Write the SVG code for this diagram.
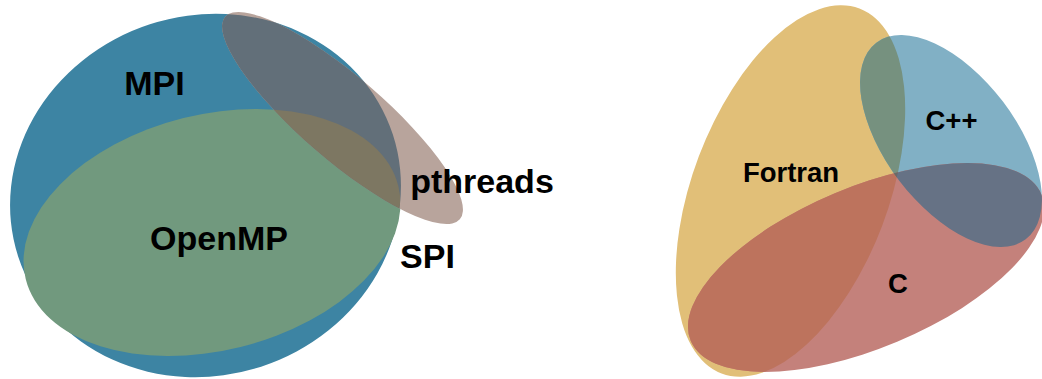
<svg xmlns="http://www.w3.org/2000/svg" width="1042" height="379" viewBox="0 0 1042 379">
<style>
.lbl{font-family:"Liberation Sans",Arial,sans-serif;font-weight:bold;fill:#000;text-anchor:middle}
.big{font-size:34px}
.small{font-size:27.5px}
</style>
<defs>
<clipPath id="clipMPI"><ellipse cx="205.5" cy="195.5" rx="197" ry="180" transform="rotate(-18 205.5 195.5)"/></clipPath>
<clipPath id="clipOMP"><ellipse cx="212" cy="232.5" rx="192" ry="118" transform="rotate(-14 212 232.5)"/></clipPath>
<clipPath id="clipF"><ellipse cx="790.5" cy="191" rx="98" ry="195" transform="rotate(20.7 790.5 191)"/></clipPath>
<clipPath id="clipCPP"><ellipse cx="951" cy="141" rx="123.5" ry="65.2" transform="rotate(52.8 951 141)"/></clipPath>
</defs>
<rect width="1042" height="379" fill="#fff"/>
<g id="mpi">
<ellipse cx="205.5" cy="195.5" rx="197" ry="180" transform="rotate(-18 205.5 195.5)" fill="#3d84a3"/>
<text class="lbl big" x="154.5" y="95">MPI</text>
</g>
<g id="openmp">
<ellipse cx="212" cy="232.5" rx="192" ry="118" transform="rotate(-14 212 232.5)" fill="#71997e"/>
<text class="lbl big" x="219" y="250">OpenMP</text>
</g>
<g id="pthreads">
<ellipse cx="342.5" cy="118" rx="155" ry="41.6" transform="rotate(40.8 342.5 118)" fill="#b8a49c"/>
<g clip-path="url(#clipMPI)">
<ellipse cx="342.5" cy="118" rx="155" ry="41.6" transform="rotate(40.8 342.5 118)" fill="#626f79"/>
<g clip-path="url(#clipOMP)">
<ellipse cx="342.5" cy="118" rx="155" ry="41.6" transform="rotate(40.8 342.5 118)" fill="#7d7762"/>
</g>
</g>
<text class="lbl big" x="482" y="193">pthreads</text>
</g>
<g id="spi">
<text class="lbl big" x="427.5" y="268">SPI</text>
</g>
<g id="fortran">
<ellipse cx="790.5" cy="191" rx="98" ry="195" transform="rotate(20.7 790.5 191)" fill="#e1bf78"/>
<text class="lbl small" x="791" y="182">Fortran</text>
</g>
<g id="cpp">
<ellipse cx="951" cy="141" rx="123.5" ry="65.2" transform="rotate(52.8 951 141)" fill="#81b0c5"/>
<g clip-path="url(#clipF)">
<ellipse cx="951" cy="141" rx="123.5" ry="65.2" transform="rotate(52.8 951 141)" fill="#76917f"/>
</g>
<text class="lbl small" x="951.5" y="130">C++</text>
</g>
<g id="c">
<ellipse cx="866" cy="267.5" rx="190" ry="80.6" transform="rotate(-22.7 866 267.5)" fill="#c4817b"/>
<g clip-path="url(#clipF)">
<ellipse cx="866" cy="267.5" rx="190" ry="80.6" transform="rotate(-22.7 866 267.5)" fill="#bd735d"/>
</g>
<g clip-path="url(#clipCPP)">
<ellipse cx="866" cy="267.5" rx="190" ry="80.6" transform="rotate(-22.7 866 267.5)" fill="#667285"/>
<g clip-path="url(#clipF)">
<ellipse cx="866" cy="267.5" rx="190" ry="80.6" transform="rotate(-22.7 866 267.5)" fill="#6b6a66"/>
</g>
</g>
<text class="lbl small" x="898" y="293">C</text>
</g>
<g id="connectors"/>
</svg>
